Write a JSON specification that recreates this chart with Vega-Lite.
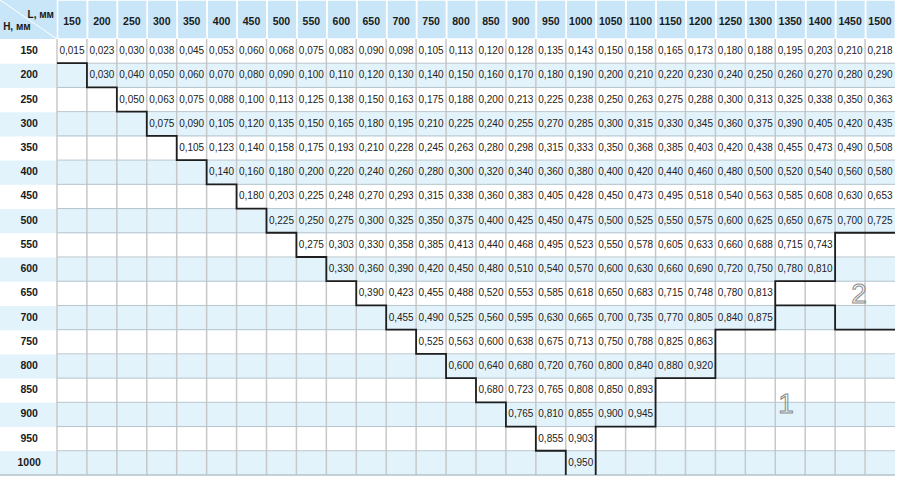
{
  "$schema": "https://vega.github.io/schema/vega-lite/v6.json",
  "width": 900,
  "height": 481,
  "padding": 0,
  "autosize": "none",
  "background": "white",
  "config": {
    "view": {"stroke": null},
    "axis": {"disable": true},
    "text": {"font": "Liberation Sans"},
    "locale": {"number": {"decimal": ",", "thousands": " ", "grouping": [3], "currency": ["", ""]}}
  },
  "datasets": {
    "cols": [{"L":150},{"L":200},{"L":250},{"L":300},{"L":350},{"L":400},{"L":450},{"L":500},{"L":550},{"L":600},{"L":650},{"L":700},{"L":750},{"L":800},{"L":850},{"L":900},{"L":950},{"L":1000},{"L":1050},{"L":1100},{"L":1150},{"L":1200},{"L":1250},{"L":1300},{"L":1350},{"L":1400},{"L":1450},{"L":1500}],
    "rows": [{"H":150},{"H":200},{"H":250},{"H":300},{"H":350},{"H":400},{"H":450},{"H":500},{"H":550},{"H":600},{"H":650},{"H":700},{"H":750},{"H":800},{"H":850},{"H":900},{"H":950},{"H":1000}],
    "cells": [
      {"H":150,"L":[150,200,250,300,350,400,450,500,550,600,650,700,750,800,850,900,950,1000,1050,1100,1150,1200,1250,1300,1350,1400,1450,1500],"v":[0.015,0.023,0.030,0.038,0.045,0.053,0.060,0.068,0.075,0.083,0.090,0.098,0.105,0.113,0.120,0.128,0.135,0.143,0.150,0.158,0.165,0.173,0.180,0.188,0.195,0.203,0.210,0.218]},
      {"H":200,"L":[200,250,300,350,400,450,500,550,600,650,700,750,800,850,900,950,1000,1050,1100,1150,1200,1250,1300,1350,1400,1450,1500],"v":[0.030,0.040,0.050,0.060,0.070,0.080,0.090,0.100,0.110,0.120,0.130,0.140,0.150,0.160,0.170,0.180,0.190,0.200,0.210,0.220,0.230,0.240,0.250,0.260,0.270,0.280,0.290]},
      {"H":250,"L":[250,300,350,400,450,500,550,600,650,700,750,800,850,900,950,1000,1050,1100,1150,1200,1250,1300,1350,1400,1450,1500],"v":[0.050,0.063,0.075,0.088,0.100,0.113,0.125,0.138,0.150,0.163,0.175,0.188,0.200,0.213,0.225,0.238,0.250,0.263,0.275,0.288,0.300,0.313,0.325,0.338,0.350,0.363]},
      {"H":300,"L":[300,350,400,450,500,550,600,650,700,750,800,850,900,950,1000,1050,1100,1150,1200,1250,1300,1350,1400,1450,1500],"v":[0.075,0.090,0.105,0.120,0.135,0.150,0.165,0.180,0.195,0.210,0.225,0.240,0.255,0.270,0.285,0.300,0.315,0.330,0.345,0.360,0.375,0.390,0.405,0.420,0.435]},
      {"H":350,"L":[350,400,450,500,550,600,650,700,750,800,850,900,950,1000,1050,1100,1150,1200,1250,1300,1350,1400,1450,1500],"v":[0.105,0.123,0.140,0.158,0.175,0.193,0.210,0.228,0.245,0.263,0.280,0.298,0.315,0.333,0.350,0.368,0.385,0.403,0.420,0.438,0.455,0.473,0.490,0.508]},
      {"H":400,"L":[400,450,500,550,600,650,700,750,800,850,900,950,1000,1050,1100,1150,1200,1250,1300,1350,1400,1450,1500],"v":[0.140,0.160,0.180,0.200,0.220,0.240,0.260,0.280,0.300,0.320,0.340,0.360,0.380,0.400,0.420,0.440,0.460,0.480,0.500,0.520,0.540,0.560,0.580]},
      {"H":450,"L":[450,500,550,600,650,700,750,800,850,900,950,1000,1050,1100,1150,1200,1250,1300,1350,1400,1450,1500],"v":[0.180,0.203,0.225,0.248,0.270,0.293,0.315,0.338,0.360,0.383,0.405,0.428,0.450,0.473,0.495,0.518,0.540,0.563,0.585,0.608,0.630,0.653]},
      {"H":500,"L":[500,550,600,650,700,750,800,850,900,950,1000,1050,1100,1150,1200,1250,1300,1350,1400,1450,1500],"v":[0.225,0.250,0.275,0.300,0.325,0.350,0.375,0.400,0.425,0.450,0.475,0.500,0.525,0.550,0.575,0.600,0.625,0.650,0.675,0.700,0.725]},
      {"H":550,"L":[550,600,650,700,750,800,850,900,950,1000,1050,1100,1150,1200,1250,1300,1350,1400],"v":[0.275,0.303,0.330,0.358,0.385,0.413,0.440,0.468,0.495,0.523,0.550,0.578,0.605,0.633,0.660,0.688,0.715,0.743]},
      {"H":600,"L":[600,650,700,750,800,850,900,950,1000,1050,1100,1150,1200,1250,1300,1350,1400],"v":[0.330,0.360,0.390,0.420,0.450,0.480,0.510,0.540,0.570,0.600,0.630,0.660,0.690,0.720,0.750,0.780,0.810]},
      {"H":650,"L":[650,700,750,800,850,900,950,1000,1050,1100,1150,1200,1250,1300],"v":[0.390,0.423,0.455,0.488,0.520,0.553,0.585,0.618,0.650,0.683,0.715,0.748,0.780,0.813]},
      {"H":700,"L":[700,750,800,850,900,950,1000,1050,1100,1150,1200,1250,1300],"v":[0.455,0.490,0.525,0.560,0.595,0.630,0.665,0.700,0.735,0.770,0.805,0.840,0.875]},
      {"H":750,"L":[750,800,850,900,950,1000,1050,1100,1150,1200],"v":[0.525,0.563,0.600,0.638,0.675,0.713,0.750,0.788,0.825,0.863]},
      {"H":800,"L":[800,850,900,950,1000,1050,1100,1150,1200],"v":[0.600,0.640,0.680,0.720,0.760,0.800,0.840,0.880,0.920]},
      {"H":850,"L":[850,900,950,1000,1050,1100],"v":[0.680,0.723,0.765,0.808,0.850,0.893]},
      {"H":900,"L":[900,950,1000,1050,1100],"v":[0.765,0.810,0.855,0.900,0.945]},
      {"H":950,"L":[950,1000],"v":[0.855,0.903]},
      {"H":1000,"L":[1000],"v":[0.950]}
    ],
    "borders": [
      {"seg":"a","k":0,"xb":125,"yb":175},{"seg":"a","k":1,"xb":175,"yb":225},{"seg":"a","k":2,"xb":225,"yb":275},{"seg":"a","k":3,"xb":275,"yb":325},{"seg":"a","k":4,"xb":325,"yb":375},{"seg":"a","k":5,"xb":375,"yb":425},{"seg":"a","k":6,"xb":425,"yb":475},{"seg":"a","k":7,"xb":475,"yb":525},{"seg":"a","k":8,"xb":525,"yb":575},{"seg":"a","k":9,"xb":575,"yb":625},{"seg":"a","k":10,"xb":625,"yb":675},{"seg":"a","k":11,"xb":675,"yb":725},{"seg":"a","k":12,"xb":725,"yb":775},{"seg":"a","k":13,"xb":775,"yb":825},{"seg":"a","k":14,"xb":825,"yb":875},{"seg":"a","k":15,"xb":875,"yb":925},{"seg":"a","k":16,"xb":925,"yb":975},{"seg":"a","k":17,"xb":975,"yb":1025},
      {"seg":"b","k":0,"xb":1525,"yb":525},{"seg":"b","k":1,"xb":1425,"yb":625},{"seg":"b","k":2,"xb":1325,"yb":725},{"seg":"b","k":3,"xb":1225,"yb":825},{"seg":"b","k":4,"xb":1125,"yb":925},{"seg":"b","k":5,"xb":1025,"yb":1025},
      {"seg":"c","k":0,"xb":1325,"yb":675},{"seg":"c","k":1,"xb":1425,"yb":725},{"seg":"c","k":2,"xb":1525,"yb":725}
    ],
    "zones": [{"zone":"1","L":1343,"H":881},{"zone":"2","L":1465,"H":654}]
  },
  "layer": [
    {
      "data": {"values": [{}]},
      "mark": {"type": "rect", "fill": "#c9e6f8"},
      "encoding": {
        "x": {"datum": 29.77, "type": "quantitative", "scale": {"domain": [29.77, 1533.4], "nice": false, "zero": false}},
        "x2": {"datum": 1525},
        "y": {"datum": 44.5, "type": "quantitative", "scale": {"domain": [44.5, 1037.4], "nice": false, "zero": false, "reverse": true}},
        "y2": {"datum": 125}
      }
    },
    {
      "data": {"name": "rows"},
      "transform": [{"filter": "datum.H % 100 == 0"}],
      "mark": {"type": "rect", "fill": "#e2f3fc"},
      "encoding": {
        "x": {"datum": 29.77, "type": "quantitative", "scale": {"domain": [29.77, 1533.4], "nice": false, "zero": false}},
        "x2": {"datum": 1525},
        "y": {"field": "H", "type": "quantitative", "bin": {"extent": [125, 1025], "step": 50, "nice": false, "anchor": 125}, "scale": {"domain": [44.5, 1037.4], "nice": false, "zero": false, "reverse": true}}
      }
    },
    {
      "data": {"name": "cols"},
      "mark": {"type": "rect", "fill": "transparent", "stroke": "white", "strokeWidth": 1.5},
      "encoding": {
        "x": {"field": "L", "type": "quantitative", "bin": {"extent": [125, 1525], "step": 50, "nice": false, "anchor": 125}, "scale": {"domain": [29.77, 1533.4], "nice": false, "zero": false}},
        "y": {"datum": 44.5, "type": "quantitative", "scale": {"domain": [44.5, 1037.4], "nice": false, "zero": false, "reverse": true}},
        "y2": {"datum": 125}
      }
    },
    {
      "data": {"name": "cols"},
      "mark": {"type": "rule", "color": "#c8c8c8", "strokeWidth": 1.5},
      "encoding": {
        "x": {"field": "L", "type": "quantitative", "bin": {"extent": [125, 1525], "step": 50, "nice": false, "anchor": 125}, "bandPosition": 0, "scale": {"domain": [29.77, 1533.4], "nice": false, "zero": false}},
        "y": {"datum": 125, "type": "quantitative", "scale": {"domain": [44.5, 1037.4], "nice": false, "zero": false, "reverse": true}},
        "y2": {"datum": 1025}
      }
    },
    {
      "data": {"name": "rows"},
      "transform": [{"filter": "datum.H < 1000"}],
      "mark": {"type": "rule", "color": "#b6c4cd", "strokeWidth": 1},
      "encoding": {
        "x": {"datum": 125, "type": "quantitative", "scale": {"domain": [29.77, 1533.4], "nice": false, "zero": false}},
        "x2": {"datum": 1525},
        "y": {"field": "H", "type": "quantitative", "bin": {"extent": [125, 1025], "step": 50, "nice": false, "anchor": 125}, "bandPosition": 1, "scale": {"domain": [44.5, 1037.4], "nice": false, "zero": false, "reverse": true}}
      }
    },
    {
      "data": {"values": [{}]},
      "mark": {"type": "rule", "color": "#b6c4cd", "strokeWidth": 1.5},
      "encoding": {
        "x": {"datum": 29.77, "type": "quantitative", "scale": {"domain": [29.77, 1533.4], "nice": false, "zero": false}},
        "x2": {"datum": 1525},
        "y": {"datum": 1025, "type": "quantitative", "scale": {"domain": [44.5, 1037.4], "nice": false, "zero": false, "reverse": true}}
      }
    },
    {
      "data": {"values": [{}]},
      "mark": {"type": "rule", "color": "white", "strokeWidth": 1},
      "encoding": {
        "x": {"datum": 29.77, "type": "quantitative", "scale": {"domain": [29.77, 1533.4], "nice": false, "zero": false}},
        "x2": {"datum": 125},
        "y": {"datum": 44.5, "type": "quantitative", "scale": {"domain": [44.5, 1037.4], "nice": false, "zero": false, "reverse": true}},
        "y2": {"datum": 125}
      }
    },
    {
      "data": {"name": "borders"},
      "mark": {"type": "line", "interpolate": "step-after", "color": "#1e1e1e", "strokeWidth": 1.8},
      "encoding": {
        "x": {"field": "xb", "type": "quantitative", "scale": {"domain": [29.77, 1533.4], "nice": false, "zero": false}},
        "y": {"field": "yb", "type": "quantitative", "scale": {"domain": [44.5, 1037.4], "nice": false, "zero": false, "reverse": true}},
        "detail": {"field": "seg"},
        "order": {"field": "k", "type": "quantitative"}
      }
    },
    {
      "data": {"values": [{"t": "L, мм", "x": 120, "y": 75.5, "a": "right"}, {"t": "H, мм", "x": 35, "y": 99.6, "a": "left"}]},
      "transform": [{"filter": "datum.a == 'right'"}],
      "mark": {"type": "text", "align": "right", "baseline": "middle", "fontWeight": "bold", "fontSize": 10, "color": "#1a1a1a"},
      "encoding": {
        "x": {"field": "x", "type": "quantitative", "scale": {"domain": [29.77, 1533.4], "nice": false, "zero": false}},
        "y": {"field": "y", "type": "quantitative", "scale": {"domain": [44.5, 1037.4], "nice": false, "zero": false, "reverse": true}},
        "text": {"field": "t"}
      }
    },
    {
      "data": {"values": [{"t": "L, мм", "x": 120, "y": 75.5, "a": "right"}, {"t": "H, мм", "x": 35, "y": 99.6, "a": "left"}]},
      "transform": [{"filter": "datum.a == 'left'"}],
      "mark": {"type": "text", "align": "left", "baseline": "middle", "fontWeight": "bold", "fontSize": 10, "color": "#1a1a1a"},
      "encoding": {
        "x": {"field": "x", "type": "quantitative", "scale": {"domain": [29.77, 1533.4], "nice": false, "zero": false}},
        "y": {"field": "y", "type": "quantitative", "scale": {"domain": [44.5, 1037.4], "nice": false, "zero": false, "reverse": true}},
        "text": {"field": "t"}
      }
    },
    {
      "data": {"name": "cols"},
      "mark": {"type": "text", "align": "center", "baseline": "middle", "fontWeight": "bold", "fontSize": 10.5, "color": "#1a1a1a"},
      "encoding": {
        "x": {"field": "L", "type": "quantitative", "scale": {"domain": [29.77, 1533.4], "nice": false, "zero": false}},
        "y": {"datum": 89, "type": "quantitative", "scale": {"domain": [44.5, 1037.4], "nice": false, "zero": false, "reverse": true}},
        "text": {"field": "L", "type": "quantitative", "format": "d"}
      }
    },
    {
      "data": {"name": "rows"},
      "mark": {"type": "text", "align": "center", "baseline": "middle", "fontWeight": "bold", "fontSize": 10.5, "color": "#1a1a1a"},
      "encoding": {
        "x": {"datum": 78.5, "type": "quantitative", "scale": {"domain": [29.77, 1533.4], "nice": false, "zero": false}},
        "y": {"field": "H", "type": "quantitative", "scale": {"domain": [44.5, 1037.4], "nice": false, "zero": false, "reverse": true}},
        "text": {"field": "H", "type": "quantitative", "format": "d"}
      }
    },
    {
      "data": {"name": "cells"},
      "transform": [{"flatten": ["L", "v"]}],
      "mark": {"type": "text", "align": "center", "baseline": "middle", "fontSize": 10, "color": "#222222"},
      "encoding": {
        "x": {"field": "L", "type": "quantitative", "scale": {"domain": [29.77, 1533.4], "nice": false, "zero": false}},
        "y": {"field": "H", "type": "quantitative", "scale": {"domain": [44.5, 1037.4], "nice": false, "zero": false, "reverse": true}},
        "text": {"field": "v", "type": "quantitative", "format": ".3f"}
      }
    },
    {
      "data": {"name": "zones"},
      "mark": {"type": "text", "align": "center", "baseline": "middle", "fontSize": 28, "fill": "transparent", "stroke": "#8a8a8a", "strokeWidth": 1},
      "encoding": {
        "x": {"field": "L", "type": "quantitative", "scale": {"domain": [29.77, 1533.4], "nice": false, "zero": false}},
        "y": {"field": "H", "type": "quantitative", "scale": {"domain": [44.5, 1037.4], "nice": false, "zero": false, "reverse": true}},
        "text": {"field": "zone"}
      }
    }
  ]
}
